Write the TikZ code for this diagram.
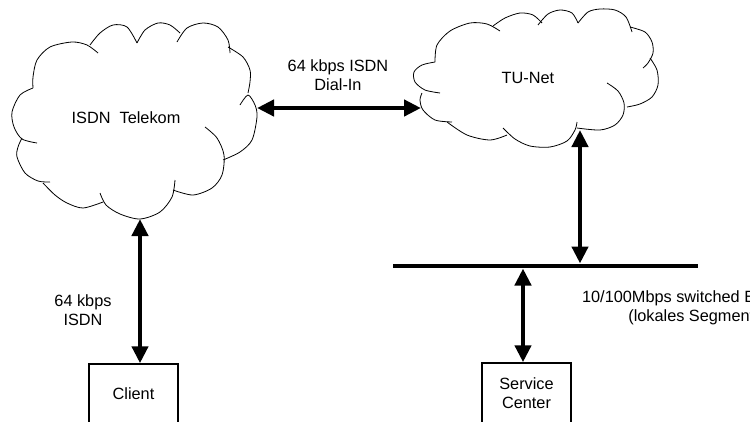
\documentclass[tikz,border=0pt]{standalone}
\usepackage{fontspec}
\setmainfont{Liberation Sans}
\usetikzlibrary{arrows.meta}
\begin{document}
\begin{tikzpicture}[x=1pt,y=-1pt,
  cloudline/.style={line width=0.8pt},
  lbl/.style={font=\fontsize{16.3}{19}\selectfont, align=center, inner sep=0pt},
  boxst/.style={lbl, draw, line width=1.5pt, minimum width=89pt, minimum height=60pt},
  link/.style={line width=4.5pt, {Triangle[length=17pt,width=16pt]}-{Triangle[length=17pt,width=16pt]}},
  busline/.style={line width=4.5pt}]
\useasboundingbox (0,0) rectangle (750,421);
\clip (0,0) rectangle (750,421);

% ISDN Telekom cloud
\draw[cloudline] plot[smooth] coordinates {(33,88) (33,77) (37,60) (50,47) (72,42) (87,45) (98,53)};
\draw[cloudline] plot[smooth] coordinates {(90,45) (100,33) (113,25) (127,27) (137,43)};
\draw[cloudline] plot[smooth] coordinates {(137,43) (145,30) (158,23) (170,25) (180,33)};
\draw[cloudline] plot[smooth] coordinates {(177,42) (187,28) (203,23) (218,27) (228,40) (230,53)};
\draw[cloudline] plot[smooth] coordinates {(228,47) (243,57) (250,70) (250,82) (248,93)};
\draw[cloudline] plot[smooth] coordinates {(240,105) (248,95) (255,105) (257,117) (252,140) (240,152) (223,160)};
\draw[cloudline] plot[smooth] coordinates {(205,127) (217,138) (224,155) (222,175) (212,188) (193,195) (173,190)};
\draw[cloudline] plot[smooth] coordinates {(175,180) (172,197) (160,212) (140,219) (120,214) (106,205) (100,193)};
\draw[cloudline] plot[smooth] coordinates {(103,202) (83,208) (67,203) (55,195) (43,183)};
\draw[cloudline] plot[smooth] coordinates {(50,182) (38,181) (25,173) (17,157) (18,147) (22,138)};
\draw[cloudline] plot[smooth] coordinates {(37,143) (22,139) (14,127) (12,112) (20,95) (33,88)};

% TU-Net cloud
\draw[cloudline] plot[smooth] coordinates {(435,62) (437,45) (450,31) (470,23) (487,24) (500,31)};
\draw[cloudline] plot[smooth] coordinates {(493,26) (505,18) (520,13) (533,15) (542,23)};
\draw[cloudline] plot[smooth] coordinates {(538,25) (548,14) (560,10) (572,13) (578,23)};
\draw[cloudline] plot[smooth] coordinates {(578,23) (588,12) (600,9) (615,10) (626,17) (632,32)};
\draw[cloudline] plot[smooth] coordinates {(630,27) (645,32) (652,42) (653,53) (648,63) (643,68)};
\draw[cloudline] plot[smooth] coordinates {(650,58) (657,70) (658,85) (652,97) (640,104) (627,107)};
\draw[cloudline] plot[smooth] coordinates {(607,83) (618,91) (624,103) (623,115) (615,125) (600,130) (577,128)};
\draw[cloudline] plot[smooth] coordinates {(577,122) (575,130) (567,141) (550,147) (530,146) (515,139) (503,128)};
\draw[cloudline] plot[smooth] coordinates {(507,135) (490,140) (467,135) (447,122)};
\draw[cloudline] plot[smooth] coordinates {(452,122) (435,120) (423,110) (420,100) (422,93)};
\draw[cloudline] plot[smooth] coordinates {(440,93) (425,90) (415,82) (414,72) (422,65) (435,62)};

% labels
\node[lbl, anchor=base] (isdn) at (126,123) {ISDN~~Telekom};
\node[lbl, anchor=base] (tunet) at (528,83) {TU-Net};
\node[lbl] (dial) at (338,75.5) {64 kbps ISDN\\Dial-In};
\node[lbl] (isdnrate) at (83,310.5) {64 kbps\\ISDN};
\node[lbl] (eth) at (694,307.3) {10/100Mbps switched Ethernet\\(lokales Segment)};

% boxes
\node[boxst] (client) at (133.5,394) {Client};
\node[boxst] (service) at (526.5,393) {Service\\Center};

% connection points
\coordinate (isdnS) at (140,219);
\coordinate (isdnE) at (257,108);
\coordinate (tuW) at (421,108);
\coordinate (tuS) at (580,130);
\coordinate (busL) at (393,266);
\coordinate (busR) at (698,266);
\coordinate (busTu) at (580,263.5);
\coordinate (busSc) at (523,268.5);

% bus and connectors
\draw[busline] (busL) -- (busR);
\draw[link] (isdnE) -- (tuW);
\draw[link] (isdnS) -- (isdnS |- client.north);
\draw[link] (tuS) -- (busTu);
\draw[link] (busSc) -- (busSc |- service.north);
\end{tikzpicture}
\end{document}
